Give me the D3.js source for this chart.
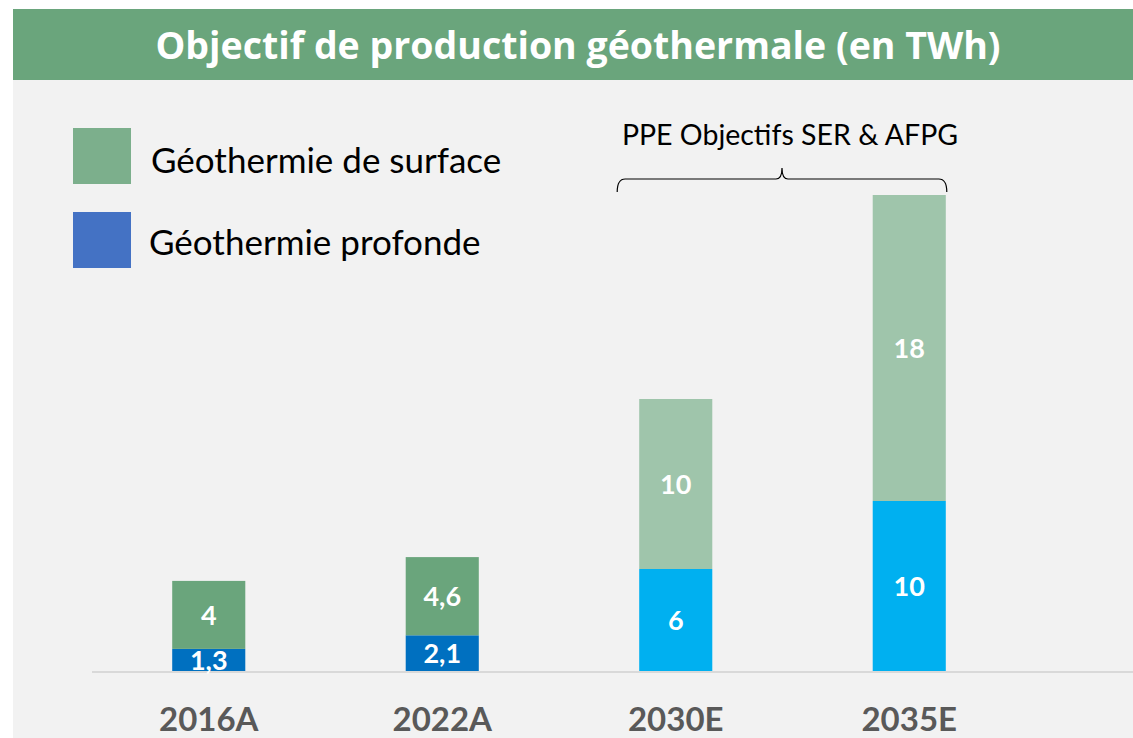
<!DOCTYPE html>
<meta charset="utf-8">
<style>
body { margin: 0; background: #fff; }
text { font-family: Lato, "Open Sans", sans-serif; }
</style>
<svg width="1133" height="738"></svg>
<script src="https://d3js.org/d3.v7.min.js"></script>
<script>

// data
var categories = ["2016A", "2022A", "2030E", "2035E"];
var profonde   = [1.3, 2.1, 6, 10];
var surface    = [4, 4.6, 10, 18];
var seriesNames = ["Géothermie de surface", "Géothermie profonde"];
var bracketLabel = "PPE Objectifs SER & AFPG";

// colours : actual years darker, estimates lighter
var profondeColours = ["#0070c0", "#0070c0", "#00b0f0", "#00b0f0"];
var surfaceColours  = ["#6aa57c", "#6aa57c", "#9fc5ab", "#9fc5ab"];
var legendColours   = ["#7caf8c", "#4472c4"];

var fr = d3.formatLocale({decimal: ",", thousands: " ", grouping: [3], currency: ["", " €"]});
var fmt = fr.format("~g");

var svg = d3.select("svg");

svg.append("rect")
   .attr("x", 13).attr("y", 9)
   .attr("width", 1120).attr("height", 729)
   .attr("fill", "#f2f2f2");

// title banner
svg.append("rect")
   .attr("x", 13).attr("y", 9)
   .attr("width", 1120).attr("height", 71)
   .attr("fill", "#6aa57c");

svg.append("text")
   .attr("x", 578).attr("y", 59)
   .attr("text-anchor", "middle")
   .style("font-family", "'Open Sans', sans-serif")
   .style("font-size", "37.5px")
   .style("font-weight", "bold")
   .attr("fill", "#fff")
   .text("Objectif de production géothermale (en TWh)");

var x = d3.scaleBand()
          .domain(categories)
          .range([92, 1026])
          .paddingInner(0.687)
          .paddingOuter(0.3435);

var y = d3.scaleLinear()
          .domain([0, 28])
          .range([671, 195]);

// baseline
svg.append("line")
   .attr("x1", 92).attr("x2", 1133)
   .attr("y1", y(0) + 1).attr("y2", y(0) + 1)
   .attr("stroke", "#d9d9d9")
   .attr("stroke-width", 2);

var bars = svg.append("g");

bars.selectAll(".deep")
    .data(categories)
    .join("rect")
    .attr("class", "deep")
    .attr("x", d => x(d))
    .attr("width", x.bandwidth())
    .attr("y", (d, i) => y(profonde[i]))
    .attr("height", (d, i) => y(0) - y(profonde[i]))
    .attr("fill", (d, i) => profondeColours[i]);

bars.selectAll(".surf")
    .data(categories)
    .join("rect")
    .attr("class", "surf")
    .attr("x", d => x(d))
    .attr("width", x.bandwidth())
    .attr("y", (d, i) => y(profonde[i] + surface[i]))
    .attr("height", (d, i) => y(profonde[i]) - y(profonde[i] + surface[i]))
    .attr("fill", (d, i) => surfaceColours[i]);

// value labels
bars.selectAll(".deepLbl")
    .data(categories)
    .join("text")
    .attr("class", "deepLbl")
    .attr("x", d => x(d) + x.bandwidth() / 2)
    .attr("y", (d, i) => (y(0) + y(profonde[i])) / 2 + 10)
    .attr("text-anchor", "middle")
    .style("font-size", "27px")
    .style("font-weight", "bold")
    .attr("fill", "#fff")
    .text((d, i) => fmt(profonde[i]));

bars.selectAll(".surfLbl")
    .data(categories)
    .join("text")
    .attr("class", "surfLbl")
    .attr("x", d => x(d) + x.bandwidth() / 2)
    .attr("y", (d, i) => (y(profonde[i]) + y(profonde[i] + surface[i])) / 2 + 10)
    .attr("text-anchor", "middle")
    .style("font-size", "27px")
    .style("font-weight", "bold")
    .attr("fill", "#fff")
    .text((d, i) => fmt(surface[i]));

// category labels
svg.selectAll(".cat")
   .data(categories)
   .join("text")
   .attr("class", "cat")
   .attr("x", d => x(d) + x.bandwidth() / 2)
   .attr("y", 731)
   .attr("text-anchor", "middle")
   .style("font-size", "33px")
   .style("font-weight", "bold")
   .attr("fill", "#595959")
   .text(d => d);

// legend
var legend = svg.append("g");
seriesNames.forEach(function (name, i) {
  legend.append("rect")
        .attr("x", 73).attr("y", 128 + i * 84)
        .attr("width", 58).attr("height", 56)
        .attr("fill", legendColours[i]);
  legend.append("text")
        .attr("x", 151 - i * 2).attr("y", 173 + i * 82)
        .style("font-size", "35px")
        .attr("fill", "#000")
        .text(name);
});

// bracket over estimates
var bx1 = x("2030E") - 22, bx2 = x("2035E") + x.bandwidth() + 1;
var bm = (bx1 + bx2) / 2, by = 179;
svg.append("path")
   .attr("d", "M" + bx1 + "," + (by + 13) +
              " Q" + bx1 + "," + by + " " + (bx1 + 8) + "," + by +
              " L" + (bm - 6) + "," + by +
              " Q" + bm + "," + by + " " + bm + "," + (by - 11) +
              " Q" + bm + "," + by + " " + (bm + 6) + "," + by +
              " L" + (bx2 - 8) + "," + by +
              " Q" + bx2 + "," + by + " " + bx2 + "," + (by + 13))
   .attr("fill", "none")
   .attr("stroke", "#000")
   .attr("stroke-width", 1.2);

svg.append("text")
   .attr("x", 790).attr("y", 145)
   .attr("text-anchor", "middle")
   .style("font-size", "28.5px")
   .attr("fill", "#000")
   .text(bracketLabel);

</script>
